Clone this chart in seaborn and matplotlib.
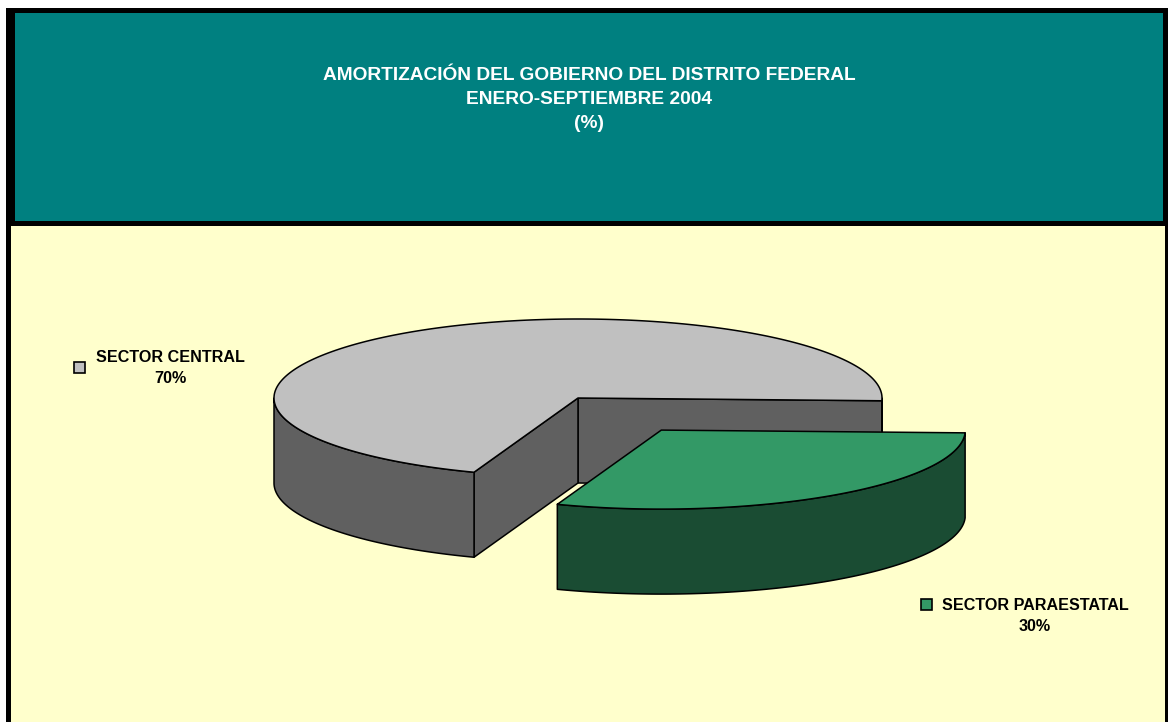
import numpy as np
import matplotlib
matplotlib.use("Agg")
import matplotlib.pyplot as plt
from matplotlib.patches import Rectangle, Polygon
import seaborn as sns

# data
title_lines = ["AMORTIZACIÓN DEL GOBIERNO DEL DISTRITO FEDERAL",
               "ENERO-SEPTIEMBRE 2004",
               "(%)"]
sectors = ["SECTOR CENTRAL", "SECTOR PARAESTATAL"]
shares = [70, 30]

# styling
top_colors = ["#C0C0C0", "#339966"]
side_colors = ["#606060", "#1A4C33"]
explode = [0.0, 0.49]
label_pos = [(170, 368), (1035, 616)]
marker_pos = [(79, 367), (926, 604)]

W, H = 1168, 722
CX, CY, RX, RY, DEPTH = 578, 398, 304, 79, 85
START = -2.0


def rim(t, ox=0.0, oy=0.0):
   t = np.radians(t)
   return np.column_stack([CX + ox + RX * np.cos(t), CY + oy - RY * np.sin(t)])


def draw_slice(ax, a0, a1, ox, oy, top, side):
   kw = dict(edgecolor="black", linewidth=1.1, joinstyle="round")
   c = np.array([[CX + ox, CY + oy]])
   down = np.array([0, DEPTH])
   # radial walls facing the viewer
   for a, normal in [(a0, a0 - 90), (a1, a1 + 90)]:
      if np.sin(np.radians(normal)) < 0:
         p = rim([a], ox, oy)
         ax.add_patch(Polygon(np.vstack([c, p, p + down, c + down]),
                              facecolor=side, **kw))
   # outer wall, front half only
   for base in (-360, 0, 360):
      f0, f1 = max(a0, 180 + base), min(a1, 360 + base)
      if f1 > f0:
         arc = rim(np.linspace(f0, f1, 120), ox, oy)
         ax.add_patch(Polygon(np.vstack([arc, (arc + down)[::-1]]),
                              facecolor=side, **kw))
   # top face
   arc = rim(np.linspace(a0, a1, 300), ox, oy)
   ax.add_patch(Polygon(np.vstack([c, arc]), facecolor=top, **kw))


def main():
   sns.set_style("white")
   plt.rcParams["font.family"] = ["Liberation Sans", "DejaVu Sans"]

   fig = plt.figure(figsize=(W / 100, H / 100), dpi=100)
   ax = fig.add_axes([0, 0, 1, 1])
   ax.set_xlim(0, W)
   ax.set_ylim(H, 0)
   ax.axis("off")

   # frame, title band and plot area
   ax.add_patch(Rectangle((6, 8), W - 6, H - 8, facecolor="black", lw=0))
   ax.add_patch(Rectangle((15, 13), 1148, 208, facecolor="#008080", lw=0))
   ax.add_patch(Rectangle((11, 226), 1154, H - 226, facecolor="#FFFFCC", lw=0))

   for i, line in enumerate(title_lines):
      ax.text(589, 75 + 24.5 * i, line, ha="center", va="center",
              color="white", fontsize=13.8, fontweight="bold")

   spans = 360.0 * np.array(shares) / np.sum(shares)
   a = START
   for i in range(len(shares)):
      a0, a1 = a, a + spans[i]
      mid = np.radians((a0 + a1) / 2)
      ox = explode[i] * RX * np.cos(mid)
      oy = -explode[i] * RY * np.sin(mid)
      draw_slice(ax, a0, a1, ox, oy, top_colors[i], side_colors[i])
      a = a1

   for i, name in enumerate(sectors):
      x, y = label_pos[i]
      ax.text(x, y, f"{name}\n{shares[i]}%", ha="center", va="center",
              multialignment="center", fontsize=11.6, fontweight="bold",
              color="black", linespacing=1.42)
      mx, my = marker_pos[i]
      ax.add_patch(Rectangle((mx - 5.5, my - 5.5), 11, 11,
                             facecolor=top_colors[i], edgecolor="black",
                             linewidth=1.2))

   fig.savefig("out.png", dpi=100)


if __name__ == "__main__":
   main()
